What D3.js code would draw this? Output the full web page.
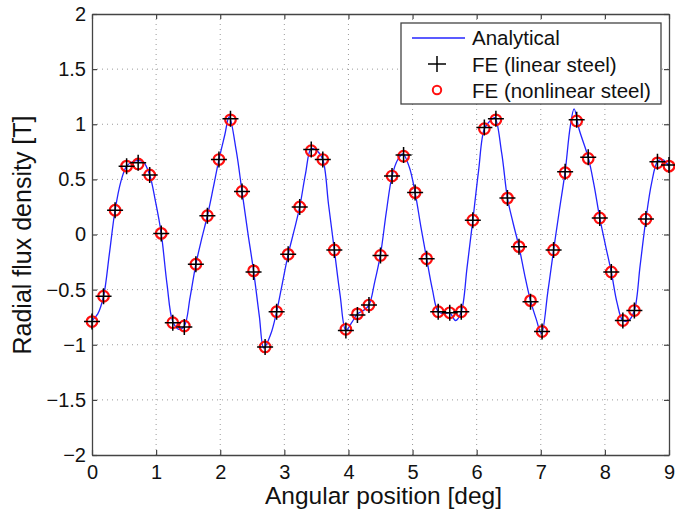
<!DOCTYPE html>
<html>
<head>
<meta charset="utf-8">
<script src="https://cdn.jsdelivr.net/npm/d3@7"></script>
<style>
  body { margin: 0; background: #fff; }
  text { font-family: "Liberation Sans", Arial, Helvetica, sans-serif; fill: #111; }
</style>
</head>
<body>
<div id="chart"></div>
<script>
// Analytical curve
var analyticalDeg = [0.00, 0.09, 0.18, 0.27, 0.36, 0.45, 0.54, 0.63, 0.72, 0.80, 0.90, 0.99, 1.08, 1.17, 1.26, 1.35, 1.44, 1.53, 1.62, 1.71,
  1.80, 1.89, 1.98, 2.07, 2.14, 2.25, 2.34, 2.43, 2.52, 2.61, 2.68, 2.79, 2.88, 2.97, 3.06, 3.15, 3.24, 3.33, 3.42, 3.51,
  3.60, 3.69, 3.78, 3.87, 3.96, 4.05, 4.14, 4.23, 4.32, 4.41, 4.50, 4.59, 4.68, 4.77, 4.85, 4.95, 5.04, 5.13, 5.22, 5.31,
  5.40, 5.49, 5.58, 5.67, 5.76, 5.85, 5.94, 6.03, 6.12, 6.21, 6.28, 6.39, 6.48, 6.57, 6.66, 6.75, 6.84, 6.93, 7.01, 7.11,
  7.20, 7.29, 7.38, 7.46, 7.52, 7.60, 7.74, 7.83, 7.92, 8.01, 8.10, 8.19, 8.28, 8.37, 8.46, 8.55, 8.64, 8.73, 8.82, 8.90, 9.00];
var analyticalB = [-0.78, -0.72, -0.56, -0.18, 0.22, 0.48, 0.62, 0.66, 0.67, 0.66, 0.54, 0.30, 0.01, -0.45, -0.79, -0.86, -0.83, -0.57, -0.27, -0.04,
  0.17, 0.42, 0.68, 0.90, 1.07, 0.76, 0.39, 0.02, -0.33, -0.74, -1.03, -0.90, -0.70, -0.44, -0.18, 0.03, 0.25, 0.55, 0.78, 0.76,
  0.68, 0.27, -0.14, -0.55, -0.87, -0.80, -0.72, -0.69, -0.64, -0.43, -0.18, 0.20, 0.53, 0.68, 0.73, 0.61, 0.38, 0.07, -0.22, -0.50,
  -0.70, -0.72, -0.71, -0.78, -0.70, -0.30, 0.13, 0.58, 0.96, 1.03, 1.06, 0.74, 0.33, 0.10, -0.11, -0.37, -0.60, -0.77, -0.90, -0.52,
  -0.14, 0.22, 0.57, 0.98, 1.14, 0.95, 0.70, 0.45, 0.15, -0.10, -0.34, -0.62, -0.78, -0.78, -0.69, -0.28, 0.14, 0.47, 0.66, 0.68, 0.62];

// FE sample positions and results
var feDeg = [0.00, 0.18, 0.36, 0.54, 0.72, 0.90, 1.08, 1.26, 1.44, 1.62, 1.80, 1.98, 2.16, 2.34, 2.52, 2.70, 2.88, 3.06, 3.24, 3.42,
  3.60, 3.78, 3.96, 4.14, 4.32, 4.50, 4.68, 4.86, 5.04, 5.22, 5.40, 5.58, 5.76, 5.94, 6.12, 6.30, 6.48, 6.66, 6.84, 7.02,
  7.20, 7.38, 7.56, 7.74, 7.92, 8.10, 8.28, 8.46, 8.64, 8.82, 9.00];
var feLinear = [-0.79, -0.56, 0.22, 0.62, 0.65, 0.54, 0.01, -0.80, -0.84, -0.27, 0.17, 0.68, 1.05, 0.39, -0.34, -1.02, -0.70, -0.18, 0.25, 0.77,
  0.68, -0.14, -0.87, -0.73, -0.64, -0.19, 0.53, 0.72, 0.38, -0.22, -0.70, -0.71, -0.70, 0.13, 0.97, 1.05, 0.33, -0.11, -0.61, -0.88,
  -0.14, 0.57, 1.04, 0.70, 0.15, -0.34, -0.78, -0.69, 0.14, 0.66, 0.63];
var feNonlinear = [-0.79, -0.56, 0.22, 0.62, 0.64, 0.54, 0.01, -0.80, -0.83, -0.27, 0.17, 0.68, 1.04, 0.39, -0.33, -1.02, -0.70, -0.18, 0.25, 0.76,
  0.68, -0.14, -0.86, -0.72, -0.64, -0.19, 0.53, 0.71, 0.38, -0.22, -0.70, -0.71, -0.70, 0.13, 0.96, 1.04, 0.33, -0.11, -0.60, -0.88,
  -0.14, 0.56, 1.03, 0.69, 0.15, -0.34, -0.78, -0.69, 0.14, 0.65, 0.62];

// Ticks
var xTicks = [0, 1, 2, 3, 4, 5, 6, 7, 8, 9];
var yTicks = [-2, -1.5, -1, -0.5, 0, 0.5, 1, 1.5, 2];
var yTickLabels = ["\u22122", "\u22121.5", "\u22121", "\u22120.5", "0", "0.5", "1", "1.5", "2"];
var legendLabels = ["Analytical", "FE (linear steel)", "FE (nonlinear steel)"];

var margin = { top: 14, right: 6, bottom: 63, left: 92 },
    width = 675 - margin.left - margin.right,
    height = 518 - margin.top - margin.bottom;

var svg = d3.select("#chart")
  .append("svg")
    .attr("width", 675)
    .attr("height", 518)
  .append("g")
    .attr("transform", "translate(" + margin.left + "," + margin.top + ")");

var x = d3.scaleLinear().domain([0, 9]).range([0, width]);
var y = d3.scaleLinear().domain([-2, 2]).range([height, 0]);

// Dotted grid
svg.append("g").selectAll("line")
  .data(xTicks.slice(1, -1))
  .enter().append("line")
    .attr("x1", d => x(d)).attr("x2", d => x(d))
    .attr("y1", 0).attr("y2", height)
    .attr("stroke", "#9a9a9a").attr("stroke-width", 1).attr("stroke-dasharray", "1,4");
svg.append("g").selectAll("line")
  .data(yTicks.slice(1, -1))
  .enter().append("line")
    .attr("y1", d => y(d)).attr("y2", d => y(d))
    .attr("x1", 0).attr("x2", width)
    .attr("stroke", "#9a9a9a").attr("stroke-width", 1).attr("stroke-dasharray", "1,4");

// Axes with inward ticks
function styleAxis(g) {
  g.select(".domain").attr("stroke", "#444").attr("stroke-width", 1.3);
  g.selectAll(".tick line").attr("stroke", "#444").attr("stroke-width", 1.2);
  g.selectAll("text").style("font-size", "20px").attr("fill", "#111");
}

svg.append("g")
    .attr("transform", "translate(0," + height + ")")
    .call(d3.axisBottom(x).tickValues(xTicks).tickSize(-5).tickSizeOuter(0).tickPadding(10))
    .call(styleAxis);
svg.append("g")
    .call(d3.axisTop(x).tickValues(xTicks).tickSize(-5).tickSizeOuter(0).tickFormat(""))
    .call(styleAxis);
svg.append("g")
    .call(d3.axisLeft(y).tickValues(yTicks).tickSize(-5).tickSizeOuter(0).tickPadding(6)
      .tickFormat((d, i) => yTickLabels[i]))
    .call(styleAxis);
svg.append("g")
    .attr("transform", "translate(" + width + ",0)")
    .call(d3.axisRight(y).tickValues(yTicks).tickSize(-5).tickSizeOuter(0).tickFormat(""))
    .call(styleAxis);

// Axis titles
svg.append("text")
    .attr("text-anchor", "middle")
    .attr("x", width / 2 + 3)
    .attr("y", height + 49)
    .style("font-size", "24.5px")
    .text("Angular position [deg]");
svg.append("text")
    .attr("text-anchor", "middle")
    .attr("transform", "rotate(-90)")
    .attr("x", -(235 - margin.top))
    .attr("y", 31 - margin.left)
    .style("font-size", "25px")
    .text("Radial flux density [T]");

// Analytical line
var line = d3.line()
    .x((d, i) => x(analyticalDeg[i]))
    .y(d => y(d))
    .curve(d3.curveCatmullRom.alpha(0.5));

svg.append("path")
    .datum(analyticalB)
    .attr("fill", "none")
    .attr("stroke", "#2424ff")
    .attr("stroke-width", 1.3)
    .attr("d", line);

// FE nonlinear (red circles)
svg.append("g").selectAll("circle")
  .data(feNonlinear)
  .enter().append("circle")
    .attr("cx", (d, i) => x(feDeg[i]))
    .attr("cy", d => y(d))
    .attr("r", 5.3)
    .attr("fill", "none")
    .attr("stroke", "#ff1010")
    .attr("stroke-width", 2.2);

// FE linear (black plus)
svg.append("g").selectAll("path")
  .data(feLinear)
  .enter().append("path")
    .attr("transform", (d, i) => "translate(" + x(feDeg[i]) + "," + y(d) + ")")
    .attr("d", "M-8,0H8M0,-8V8")
    .attr("stroke", "#000")
    .attr("stroke-width", 1.5);

// Legend
var lg = svg.append("g").attr("transform", "translate(" + (401 - margin.left) + "," + (23 - margin.top) + ")");
lg.append("rect")
    .attr("width", 260).attr("height", 81)
    .attr("fill", "#fff").attr("stroke", "#444").attr("stroke-width", 1.3);
lg.append("line")
    .attr("x1", 11).attr("x2", 64).attr("y1", 15).attr("y2", 15)
    .attr("stroke", "#2424ff").attr("stroke-width", 1.3);
lg.append("path")
    .attr("transform", "translate(36,41)")
    .attr("d", "M-9,0H9M0,-8V8")
    .attr("stroke", "#000").attr("stroke-width", 1.5);
lg.append("circle")
    .attr("cx", 36).attr("cy", 67).attr("r", 4.2)
    .attr("fill", "none").attr("stroke", "#ff1010").attr("stroke-width", 2);
lg.selectAll("text.lbl")
  .data(legendLabels)
  .enter().append("text")
    .attr("class", "lbl")
    .attr("x", 71)
    .attr("y", (d, i) => 22 + i * 26.5)
    .style("font-size", "20.5px")
    .text(d => d);
</script>
</body>
</html>
